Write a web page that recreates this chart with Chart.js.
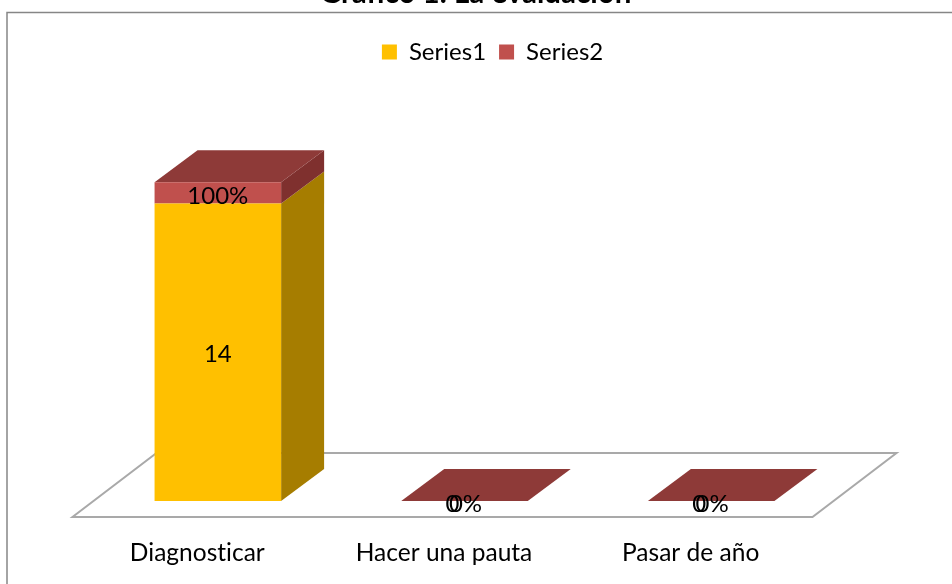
<!DOCTYPE html>
<html>
<head>
<meta charset="utf-8">
<title>La evaluación</title>
<script src="https://cdn.jsdelivr.net/npm/chart.js@4"></script>
<style>
  html, body { margin: 0; padding: 0; background: #fff; overflow: hidden; }
</style>
</head>
<body>
<canvas id="grafico" width="952" height="584" style="display:block"></canvas>
<script>
const categories = ["Diagnosticar", "Hacer una pauta", "Pasar de año"];
const series1 = [14, 0, 0];
const series2 = [1, 0, 0];
const labels1 = ["14", "0", "0"];
const labels2 = ["100%", "0%", "0%"];

const FONT = "Lato, Carlito, sans-serif";
const depthX = 43, depthY = 32;

function face(ctx, pts, color) {
  ctx.fillStyle = color;
  ctx.beginPath();
  pts.forEach((p, i) => i ? ctx.lineTo(p[0], p[1]) : ctx.moveTo(p[0], p[1]));
  ctx.closePath();
  ctx.fill();
}

// frame, floor and the 3d sides that chart.js doesn't have
const fake3d = {
  id: "fake3d",
  afterLayout(chart) {
    const title = chart.titleBlock, legend = chart.legend;
    title.top = -24.5;
    title.bottom = title.top + title.height;
    title.left += 11;
    title.right += 11;
    legend.left += 28;
    legend.right += 28;
    legend.top = 27;
    legend.bottom = legend.top + legend.height;
  },
  beforeDraw(chart) {
    // tiny spacing turns the Lato "ti" ligature off
    chart.ctx.letterSpacing = "0.01px";
  },
  beforeDatasetsDraw(chart) {
    const ctx = chart.ctx, area = chart.chartArea;
    ctx.save();
    // frame
    ctx.strokeStyle = "#868686";
    ctx.lineWidth = 1.5;
    ctx.beginPath();
    ctx.moveTo(7, 584);
    ctx.lineTo(7, 12.5);
    ctx.lineTo(952, 12.5);
    ctx.stroke();
    // floor
    ctx.strokeStyle = "#a9a9a9";
    ctx.lineWidth = 2;
    ctx.beginPath();
    ctx.moveTo(area.left - 22, area.bottom + 16);
    ctx.lineTo(area.right - 22, area.bottom + 16);
    ctx.lineTo(area.right + 62, area.bottom - 48);
    ctx.lineTo(area.left + 62, area.bottom - 48);
    ctx.closePath();
    ctx.stroke();

    const m1 = chart.getDatasetMeta(0).data, m2 = chart.getDatasetMeta(1).data;
    m1.forEach((b1, i) => {
      const b2 = m2[i];
      const l = b1.x - b1.width / 2, r = b1.x + b1.width / 2;
      const base = b1.base, mid = b1.y, top = b2.y;
      if (series1[i] > 0) {
        face(ctx, [[r, base], [r + depthX, base - depthY], [r + depthX, mid - depthY], [r, mid]], "#a67d00");
      }
      if (series2[i] > 0) {
        face(ctx, [[r, mid], [r + depthX, mid - depthY], [r + depthX, top - depthY], [r, top]], "#7f302e");
      }
      face(ctx, [[l, top], [l + depthX, top - depthY], [r + depthX, top - depthY], [r, top]], "#8e3a38");
    });
    ctx.restore();
  },
  afterDatasetsDraw(chart) {
    const ctx = chart.ctx;
    ctx.save();
    ctx.font = "24px " + FONT;
    ctx.fillStyle = "#000";
    ctx.textAlign = "center";
    ctx.textBaseline = "middle";
    chart.getDatasetMeta(0).data.forEach((b, i) => {
      const zero = series1[i] === 0;
      ctx.fillText(labels1[i], b.x - (zero ? 12 : 0), zero ? b.y + 3 : (b.y + b.base) / 2 + 2);
    });
    chart.getDatasetMeta(1).data.forEach((b, i) => {
      const zero = series2[i] === 0;
      ctx.fillText(labels2[i], b.x + (zero ? 1 : 0), zero ? b.y + 3 : (b.y + b.base) / 2 + 3);
    });
    ctx.restore();
  }
};

new Chart(document.getElementById("grafico"), {
  type: "bar",
  data: {
    labels: categories,
    datasets: [
      { label: "Series1", data: series1, backgroundColor: "#ffc000", stack: "a" },
      { label: "Series2", data: series2, backgroundColor: "#c0504d", stack: "a" }
    ]
  },
  options: {
    responsive: false,
    animation: false,
    layout: { padding: { left: 94.5, right: 117.5, top: 0, bottom: 0 } },
    barPercentage: 0.513,
    categoryPercentage: 1,
    scales: {
      x: {
        stacked: true,
        afterFit(scale) { scale.height = 83; },
        grid: { display: false, drawTicks: false },
        border: { display: false },
        ticks: { color: "#000", padding: 37, labelOffset: -20.5, maxRotation: 0, autoSkip: false, font: { family: FONT, size: 24.5 } }
      },
      y: {
        display: false,
        stacked: true,
        min: 0,
        max: 19.7
      }
    },
    plugins: {
      tooltip: { enabled: false },
      title: {
        display: true,
        text: "Gráfico 1. La evaluación",
        color: "#000",
        padding: { top: 0, bottom: 0 },
        font: { family: FONT, size: 29.5, weight: "bold" }
      },
      legend: {
        position: "top",
        labels: { color: "#000", boxWidth: 15, boxHeight: 15, padding: 13, font: { family: FONT, size: 24 } }
      }
    }
  },
  plugins: [fake3d]
});
</script>
</body>
</html>
